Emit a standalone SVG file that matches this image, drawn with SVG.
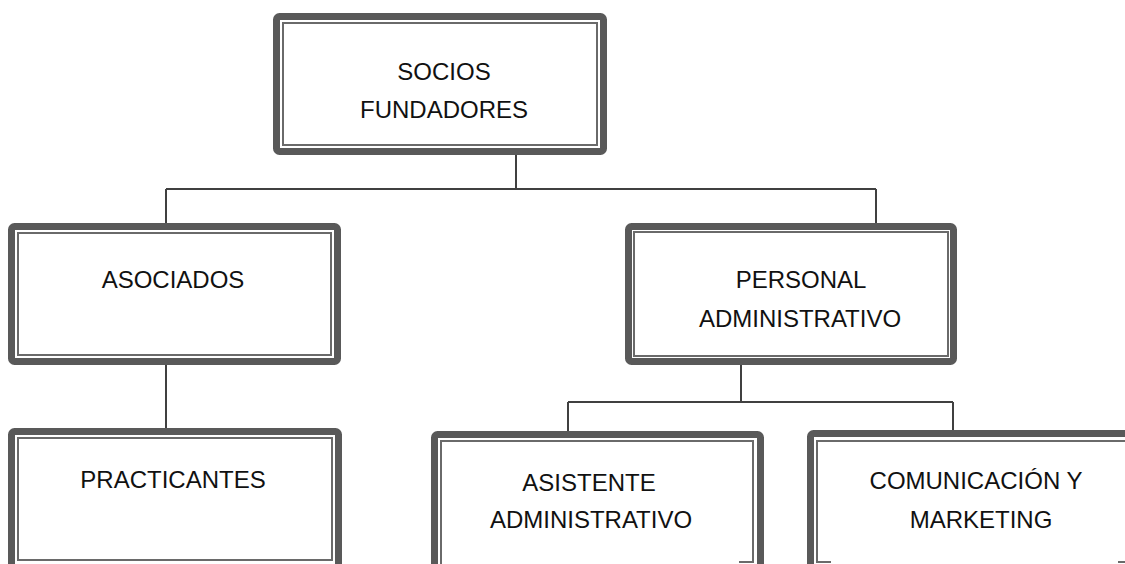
<svg xmlns="http://www.w3.org/2000/svg" width="1125" height="564" viewBox="0 0 1125 564">
<style>
.outer{fill:#ffffff;stroke:#595959;stroke-width:7}
.inner{fill:none;stroke:#6a6a6a;stroke-width:2}
.conn{fill:none;stroke:#404040;stroke-width:2}
.lbl{font-family:"Liberation Sans",Arial,sans-serif;font-size:24px;fill:#111111;text-anchor:middle}
</style>
<rect width="1125" height="564" fill="#ffffff"/>
<g id="connectors">
<path class="conn" d="M516 155V189M166 189H876M166 189V223M876 189V223"/>
<path class="conn" d="M166 365V428"/>
<path class="conn" d="M741 365V402M568 402H953M568 402V431M953 402V430"/>
</g>
<g id="socios-fundadores">
<rect class="outer" x="276.5" y="16.5" width="327" height="135" rx="3"/>
<rect class="inner" x="283" y="23" width="314" height="122"/>
<text class="lbl" x="444" y="80">SOCIOS</text>
<text class="lbl" x="444" y="118">FUNDADORES</text>
</g>
<g id="asociados">
<rect class="outer" x="11.5" y="226.5" width="326" height="135" rx="3"/>
<rect class="inner" x="18" y="233" width="313" height="122"/>
<text class="lbl" x="173" y="288">ASOCIADOS</text>
</g>
<g id="personal-administrativo">
<rect class="outer" x="628.5" y="226.5" width="325" height="135" rx="3"/>
<rect class="inner" x="634" y="232" width="314" height="124"/>
<text class="lbl" x="801" y="288">PERSONAL</text>
<text class="lbl" x="800" y="327">ADMINISTRATIVO</text>
</g>
<g id="practicantes">
<rect class="outer" x="11.5" y="431.5" width="327" height="160" rx="3"/>
<rect class="inner" x="18" y="438" width="314" height="122"/>
<text class="lbl" x="173" y="488">PRACTICANTES</text>
</g>
<g id="asistente-administrativo">
<rect class="outer" x="434.5" y="434.5" width="326" height="160" rx="3"/>
<path class="inner" d="M441 564V441H753V562H739"/>
<text class="lbl" x="589" y="491">ASISTENTE</text>
<text class="lbl" x="591" y="528">ADMINISTRATIVO</text>
</g>
<g id="comunicacion-marketing">
<rect class="outer" x="810.5" y="433.5" width="340" height="160" rx="3"/>
<path class="inner" d="M831 562H817V441H1130M1118 562H1130"/>
<text class="lbl" x="976" y="489">COMUNICACIÓN Y</text>
<text class="lbl" x="981" y="528">MARKETING</text>
</g>
</svg>
